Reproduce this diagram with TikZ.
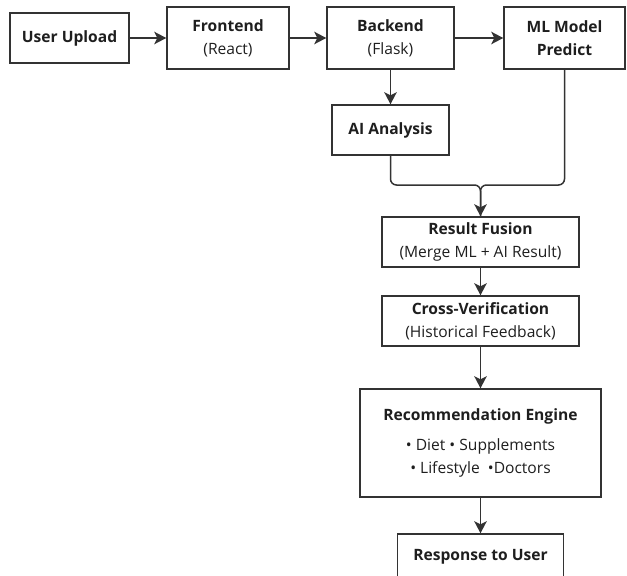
\documentclass[tikz,border=0pt]{standalone}
\usepackage{fontspec}
\setmainfont{Open Sans}
\usetikzlibrary{arrows.meta}
\definecolor{ln}{HTML}{333333}
\definecolor{tx}{HTML}{1e1e1e}
\begin{document}
\begin{tikzpicture}[x=1pt,y=-1pt,
  box/.style={draw=ln, line width=1.5pt, inner sep=0pt, align=center, text=tx,
    font=\fontsize{15.6}{23}\selectfont},
  conn/.style={draw=ln, line width=1.5pt},
  arr/.style={conn, -{Stealth[length=12pt,width=12.5pt,inset=3pt]}}]
\useasboundingbox (0,0) rectangle (627,576);
\clip (0,0) rectangle (627,576);
\node[box, minimum width=119pt, minimum height=50pt] (up) at (69.5,38) {\textbf{User Upload}};
\node[box, minimum width=122pt, minimum height=62pt] (fe) at (228,38) {\textbf{Frontend}\\(React)};
\node[box, minimum width=127pt, minimum height=62pt] (be) at (390.5,38) {\textbf{Backend}\\(Flask)};
\node[box, minimum width=121pt, minimum height=62pt] (ml) at (564.5,38) {\textbf{ML Model}\\\textbf{Predict}};
\node[box, minimum width=117pt, minimum height=50pt] (ai) at (390.5,130) {\textbf{AI Analysis}};
\node[box, minimum width=197pt, minimum height=50pt] (fu) at (480.5,242) {\textbf{Result Fusion}\\(Merge ML + AI Result)};
\node[box, minimum width=197pt, minimum height=50pt] (cv) at (480.5,321) {\textbf{Cross-Verification}\\(Historical Feedback)};
\node[box, minimum width=241pt, minimum height=108pt] (re) at (480.5,443) {\textbf{Recommendation Engine}\\[7pt]• Diet • Supplements\\• Lifestyle~~•Doctors};
\node[box, minimum width=166pt, minimum height=46pt] (rs) at (480.5,557) {\textbf{Response to User}};
\coordinate (mg) at (480.5,185);
\draw[arr] (up) -- (fe);
\draw[arr] (fe) -- (be);
\draw[arr] (be) -- (ml);
\draw[arr] (be) -- (ai);
\draw[conn, rounded corners=6pt] (ml.south) |- (mg) -- (fu.north);
\draw[arr, rounded corners=6pt] (ai.south) |- (mg) -- (fu.north);
\draw[arr] (fu) -- (cv);
\draw[arr] (cv) -- (re);
\draw[arr] (re) -- (rs);
\end{tikzpicture}
\end{document}
